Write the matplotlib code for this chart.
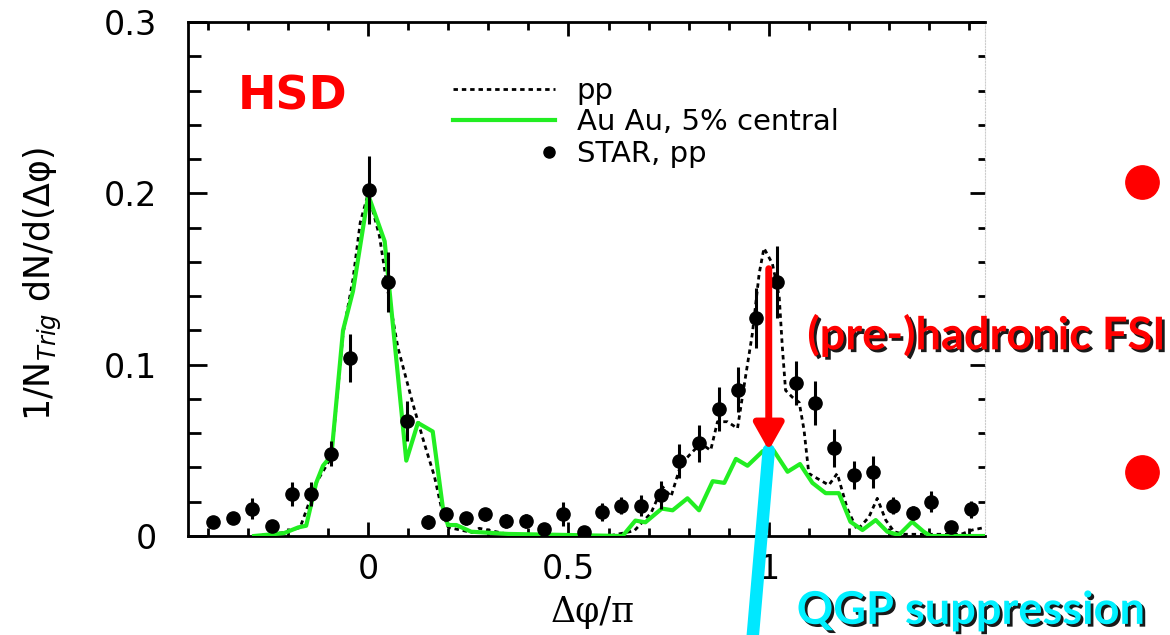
import numpy as np
import matplotlib.pyplot as plt
import matplotlib.patheffects as pe
from matplotlib.lines import Line2D
from matplotlib.legend_handler import HandlerLine2D
from matplotlib.ticker import FixedLocator, MultipleLocator

# STAR pp data (x = dphi/pi)
star_x = [-0.387, -0.337, -0.29, -0.24, -0.19, -0.142, -0.094, -0.045,
          0.003, 0.05, 0.097, 0.148, 0.195, 0.245, 0.291, 0.343, 0.393, 0.439,
          0.487, 0.538, 0.584, 0.632, 0.682, 0.73, 0.777, 0.827, 0.875, 0.923,
          0.967, 1.021, 1.067, 1.116, 1.163, 1.213, 1.26, 1.31, 1.36, 1.406,
          1.455, 1.504]
star_y = [0.0082, 0.0105, 0.016, 0.0058, 0.0245, 0.0245, 0.048, 0.104,
          0.202, 0.148, 0.067, 0.0083, 0.0126, 0.0103, 0.0126, 0.0089, 0.0089, 0.004,
          0.0126, 0.0025, 0.014, 0.0178, 0.0178, 0.024, 0.0436, 0.054, 0.074, 0.0855,
          0.127, 0.148, 0.0894, 0.0775, 0.0515, 0.0356, 0.0372, 0.0177, 0.0135, 0.02,
          0.0054, 0.0156]
star_err = [0.003, 0.003, 0.006, 0.002, 0.007, 0.007, 0.0073, 0.014,
            0.02, 0.0175, 0.0117, 0.004, 0.004, 0.004, 0.004, 0.004, 0.004, 0.003,
            0.007, 0.003, 0.005, 0.005, 0.006, 0.008, 0.01, 0.011, 0.013, 0.013,
            0.0175, 0.021, 0.0127, 0.0127, 0.011, 0.0083, 0.0092, 0.005, 0.004, 0.006,
            0.003, 0.005]

# HSD pp
pp_x = [-0.285, -0.21, -0.17, -0.13, -0.092, -0.063, -0.038, -0.02, 0.0, 0.028,
        0.049, 0.074, 0.111, 0.14, 0.165, 0.186, 0.2, 0.26, 0.277, 0.35,
        0.45, 0.6, 0.664, 0.706, 0.735, 0.756, 0.781, 0.805, 0.83, 0.855,
        0.872, 0.897, 0.922, 0.938, 0.959, 0.976, 0.988, 1.009, 1.026, 1.034,
        1.042, 1.059, 1.076, 1.088, 1.1, 1.121, 1.15, 1.171, 1.196, 1.221,
        1.25, 1.271, 1.292, 1.313, 1.337, 1.48, 1.508, 1.54]
pp_y = [0.0, 0.002, 0.005, 0.031, 0.046, 0.118, 0.15, 0.183, 0.2, 0.175,
        0.143, 0.11, 0.0775, 0.054, 0.035, 0.013, 0.005, 0.002, 0.0045, 0.001,
        0.0, 0.0, 0.003, 0.0134, 0.0287, 0.023, 0.042, 0.048, 0.054, 0.05,
        0.0667, 0.0667, 0.0628, 0.087, 0.118, 0.153, 0.168, 0.159, 0.14, 0.11,
        0.085, 0.081, 0.078, 0.062, 0.0365, 0.0336, 0.0297, 0.0365, 0.016, 0.0035,
        0.011, 0.022, 0.0093, 0.0025, 0.001, 0.001, 0.0035, 0.005]

# HSD Au+Au 5% central
auau_x = [-0.285, -0.21, -0.175, -0.155, -0.13, -0.113, -0.092, -0.063, -0.038, 0.0,
          0.041, 0.095, 0.124, 0.161, 0.186, 0.199, 0.22, 0.257, 0.35, 0.52,
          0.635, 0.667, 0.692, 0.733, 0.76, 0.797, 0.826, 0.86, 0.889, 0.918,
          0.947, 0.985, 1.012, 1.047, 1.078, 1.109, 1.142, 1.175, 1.204, 1.234,
          1.267, 1.296, 1.325, 1.358, 1.387, 1.404, 1.54]
auau_y = [0.0, 0.0017, 0.005, 0.006, 0.031, 0.041, 0.047, 0.12, 0.143, 0.199,
          0.172, 0.044, 0.066, 0.061, 0.017, 0.0064, 0.0064, 0.0025, 0.0012, 0.0005,
          0.0, 0.009, 0.008, 0.016, 0.015, 0.022, 0.015, 0.032, 0.031, 0.045,
          0.041, 0.0495, 0.05, 0.0375, 0.042, 0.031, 0.025, 0.025, 0.0083, 0.0035,
          0.0093, 0.0025, 0.0006, 0.0083, 0.0025, 0.0, 0.0]

x_ticks = [0, 0.5, 1]
x_ticklabels = ['0', '0.5', '1']
y_ticks = [0, 0.1, 0.2, 0.3]
y_ticklabels = ['0', '0.1', '0.2', '0.3']

# arrow: pp peak -> AuAu peak
arrow_x = 1.0
arrow_top = 0.156
arrow_bottom = 0.05


class DotAtEnd(HandlerLine2D):
    # legend dot sits at the right end of the handle
    def create_artists(self, legend, orig_handle, xdescent, ydescent, width, height, fontsize, trans):
        arts = super().create_artists(legend, orig_handle, xdescent, ydescent, width, height, fontsize, trans)
        for a in arts:
            a.set_xdata(np.full(len(a.get_xdata()), width - xdescent - 4))
        return arts


fig = plt.figure(figsize=(11.7, 6.35), dpi=100)
ax = fig.add_axes([0.1607, 0.1559, 0.6812, 0.8095])

ax.plot(pp_x, pp_y, color='black', lw=2, linestyle=(0, (1.6, 1.4)), label='pp', zorder=3)
ax.plot(auau_x, auau_y, color='#22ee22', lw=3, label='Au Au, 5% central', zorder=4)
ax.errorbar(star_x, star_y, yerr=star_err, fmt='o', color='black', ms=9.5,
            elinewidth=2.2, capsize=0, zorder=5)
star_handle = Line2D([], [], marker='o', color='black', linestyle='None', ms=8, label='STAR, pp')

handles = ax.get_lines()[:2] + [star_handle]
leg = ax.legend(handles=handles, loc='upper left', bbox_to_anchor=(0.332, 0.893),
                frameon=False, fontsize=21, handlelength=3.5, handletextpad=0.75,
                labelspacing=0.12, borderpad=0, borderaxespad=0,
                handler_map={star_handle: DotAtEnd()})

ax.set_xlim(-0.45, 1.54)
ax.set_ylim(0, 0.3)

ax.xaxis.set_major_locator(FixedLocator(x_ticks))
ax.set_xticklabels(x_ticklabels)
ax.xaxis.set_minor_locator(MultipleLocator(0.1))
ax.yaxis.set_major_locator(FixedLocator(y_ticks))
ax.set_yticklabels(y_ticklabels)
ax.yaxis.set_minor_locator(MultipleLocator(0.02))

ax.tick_params(which='both', direction='in', top=True, right=False, width=2, labelsize=24)
ax.tick_params(axis='y', which='major', length=14, pad=22)
ax.tick_params(axis='y', which='minor', length=9)
ax.tick_params(axis='x', which='major', length=10, pad=12)
ax.tick_params(axis='x', which='minor', length=6)

for side in ['left', 'bottom', 'top']:
    ax.spines[side].set_linewidth(2)
ax.spines['right'].set_color('#cccccc')
ax.spines['right'].set_linestyle(':')

# small ticks on the right edge
sec = ax.secondary_yaxis('right')
sec.yaxis.set_major_locator(FixedLocator(y_ticks))
sec.yaxis.set_minor_locator(MultipleLocator(0.02))
sec.tick_params(which='both', direction='in', width=2, labelright=False)
sec.tick_params(which='major', length=11)
sec.tick_params(which='minor', length=5)
sec.spines['right'].set_visible(False)

ax.set_xlabel('Δφ/π', fontsize=25, family='DejaVu Serif')
ax.xaxis.set_label_coords(0.508, -0.115)
ax.set_ylabel(r'$\mathrm{1/N}_{\mathit{Trig}}\ \mathrm{dN/d(\Delta\varphi)}$', fontsize=25)
ax.yaxis.set_label_coords(-0.155, 0.49)

# HSD tag
ax.text(0.062, 0.855, 'HSD', transform=ax.transAxes, color='red', fontsize=33,
        fontweight='bold', va='center')

# red arrow and cyan bar
ax.annotate('', xy=(arrow_x, arrow_bottom), xytext=(arrow_x, arrow_top),
            arrowprops=dict(arrowstyle='-|>,head_length=0.8,head_width=0.45', lw=5,
                            color='red', mutation_scale=20, shrinkA=0, shrinkB=0),
            zorder=7)
ax.annotate('', xy=(arrow_x, arrow_bottom), xytext=(0.643, -0.01), textcoords='figure fraction',
            arrowprops=dict(arrowstyle='-', lw=9, color='#00e8ff', shrinkA=0, shrinkB=0),
            annotation_clip=False, zorder=6)

shadow = [pe.SimplePatchShadow(offset=(2, -2), shadow_rgbFace='black', alpha=0.9), pe.Normal()]
fig.text(0.69, 0.472, '(pre-)hadronic FSI', color='red', fontsize=32.5, fontweight='bold',
         family='Lato', va='center', path_effects=shadow)
fig.text(0.681, 0.038, 'QGP suppression', color='#00f0ff', fontsize=32.5, fontweight='bold',
         family='Lato', va='center', path_effects=shadow)

# bullets at the right edge
for by in [0.713, 0.257]:
    fig.add_artist(Line2D([0.976], [by], marker='o', ms=24, color='red',
                          linestyle='None', transform=fig.transFigure))

plt.savefig('out.png', dpi=100)
